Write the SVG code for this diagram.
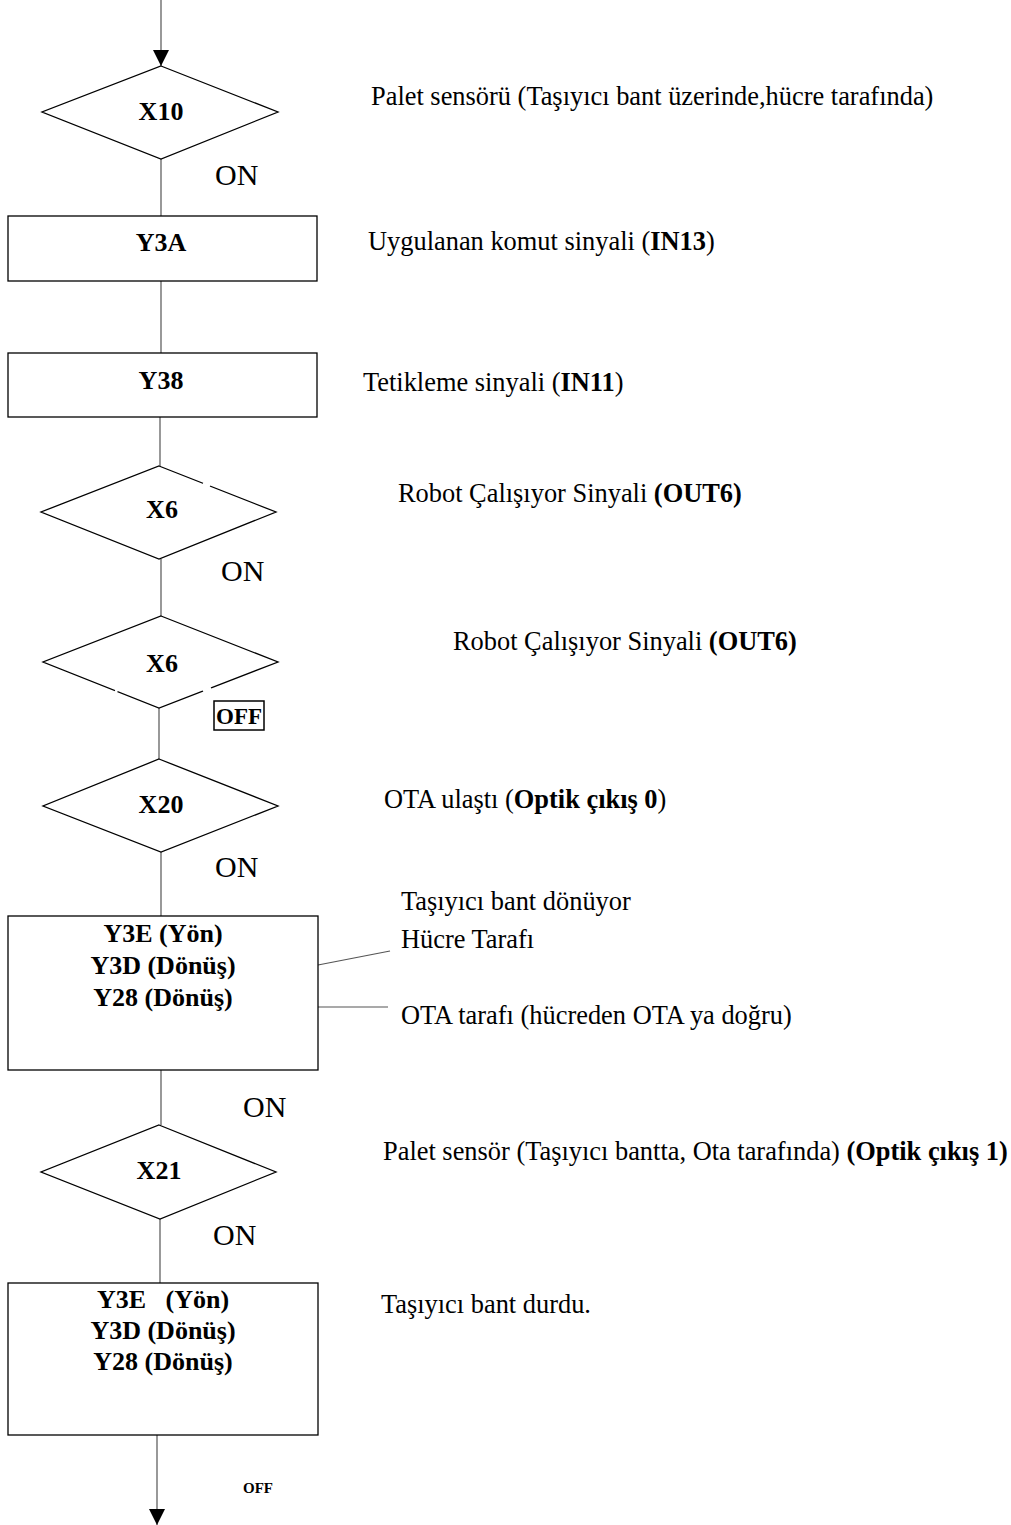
<svg xmlns="http://www.w3.org/2000/svg" width="1011" height="1525" viewBox="0 0 1011 1525">
  <style>
    .shape { fill: #ffffff; stroke: #000000; stroke-width: 1.3; }
    .gap { stroke: #ffffff; stroke-width: 3; }
    .conn { stroke: #7f7f7f; stroke-width: 1.6; fill: none; }
    .lead { stroke: #555555; stroke-width: 1.2; fill: none; }
    .lbl { font-family: "Liberation Serif", "Times New Roman", serif; font-weight: bold; font-size: 26px; fill: #000; text-anchor: middle; }
    .note { font-family: "Liberation Serif", "Times New Roman", serif; font-size: 26.4px; fill: #000; }
    .state { font-family: "Liberation Serif", "Times New Roman", serif; font-size: 30px; fill: #000; }
    .b { font-weight: bold; }
  </style>
  <defs>
    <marker id="arrow" viewBox="0 0 16 16" refX="16" refY="8" markerWidth="16" markerHeight="16" markerUnits="userSpaceOnUse" orient="auto">
      <path d="M0,0 L16,8 L0,16 Z" fill="#000"/>
    </marker>
  </defs>

  <!-- connectors between steps -->
  <g id="connectors">
    <line class="conn" x1="161" y1="0" x2="161" y2="66" marker-end="url(#arrow)"/>
    <line class="conn" x1="161" y1="159" x2="161" y2="216"/>
    <line class="conn" x1="161" y1="281" x2="161" y2="353"/>
    <line class="conn" x1="160" y1="417" x2="160" y2="466"/>
    <line class="conn" x1="161" y1="559" x2="161" y2="616"/>
    <line class="conn" x1="159" y1="708" x2="159" y2="759"/>
    <line class="conn" x1="161" y1="852" x2="161" y2="916"/>
    <line class="conn" x1="161" y1="1070" x2="161" y2="1125"/>
    <line class="conn" x1="160" y1="1219" x2="160" y2="1283"/>
    <line class="conn" x1="157" y1="1435" x2="157" y2="1525" marker-end="url(#arrow)"/>
    <!-- leader lines from the conveyor step to its notes -->
    <line class="lead" x1="318" y1="965" x2="390" y2="951"/>
    <line class="lead" x1="318" y1="1007" x2="388" y2="1007"/>
  </g>

  <g id="x10">
    <polygon class="shape" points="161,66 278,112 161,159 42,112"/>
    <text class="lbl" x="161" y="120">X10</text>
  </g>
  <g id="y3a">
    <rect class="shape" x="8" y="216" width="309" height="65"/>
    <text class="lbl" x="161" y="251">Y3A</text>
  </g>
  <g id="y38">
    <rect class="shape" x="8" y="353" width="309" height="64"/>
    <text class="lbl" x="161" y="389">Y38</text>
  </g>
  <g id="x6-on">
    <polygon class="shape" points="159,466 276,512 159,559 41,512"/>
    <line class="gap" x1="203" y1="483.3" x2="210" y2="486.1"/>
    <text class="lbl" x="162" y="518">X6</text>
  </g>
  <g id="x6-off">
    <polygon class="shape" points="161,616 278,662 159,708 43,662"/>
    <line class="gap" x1="115" y1="690.6" x2="117.5" y2="691.6"/>
    <line class="gap" x1="203" y1="691.2" x2="211" y2="687.9"/>
    <text class="lbl" x="162" y="672">X6</text>
  </g>
  <g id="x20">
    <polygon class="shape" points="159,759 278,806 161,852 43,806"/>
    <text class="lbl" x="161" y="813">X20</text>
  </g>
  <g id="conveyor-run">
    <rect class="shape" x="8" y="916" width="310" height="154"/>
    <text class="lbl" x="163" y="942">Y3E (Yön)</text>
    <text class="lbl" x="163" y="974">Y3D (Dönüş)</text>
    <text class="lbl" x="163" y="1006">Y28 (Dönüş)</text>
  </g>
  <g id="x21">
    <polygon class="shape" points="159,1125 276,1172 160,1219 41,1172"/>
    <text class="lbl" x="159" y="1179">X21</text>
  </g>
  <g id="conveyor-stop">
    <rect class="shape" x="8" y="1283" width="310" height="152"/>
    <text class="lbl" x="163" y="1308" xml:space="preserve">Y3E   (Yön)</text>
    <text class="lbl" x="163" y="1339">Y3D (Dönüş)</text>
    <text class="lbl" x="163" y="1370">Y28 (Dönüş)</text>
  </g>

  <!-- branch states -->
  <g id="states">
    <text class="state" x="215" y="185">ON</text>
    <text class="state" x="221" y="581">ON</text>
    <rect x="214" y="701" width="50" height="29" fill="none" stroke="#000" stroke-width="1.5"/>
    <text class="lbl" x="239" y="724" style="font-size:23px">OFF</text>
    <text class="state" x="215" y="877">ON</text>
    <text class="state" x="243" y="1117">ON</text>
    <text class="state" x="213" y="1245">ON</text>
    <text class="lbl" x="258" y="1493" style="font-size:15px">OFF</text>
  </g>

  <!-- signal descriptions -->
  <g id="notes">
    <text class="note" x="371" y="105">Palet sensörü (Taşıyıcı bant üzerinde,hücre tarafında)</text>
    <text class="note" x="368" y="250">Uygulanan komut sinyali (<tspan class="b">IN13</tspan>)</text>
    <text class="note" x="363" y="391">Tetikleme sinyali (<tspan class="b">IN11</tspan>)</text>
    <text class="note" x="398" y="502">Robot Çalışıyor Sinyali <tspan class="b">(OUT6)</tspan></text>
    <text class="note" x="453" y="650">Robot Çalışıyor Sinyali <tspan class="b">(OUT6)</tspan></text>
    <text class="note" x="384" y="808">OTA ulaştı (<tspan class="b">Optik çıkış 0</tspan>)</text>
    <text class="note" x="401" y="910">Taşıyıcı bant dönüyor</text>
    <text class="note" x="401" y="948">Hücre Tarafı</text>
    <text class="note" x="401" y="1024">OTA tarafı (hücreden OTA ya doğru)</text>
    <text class="note" x="383" y="1160">Palet sensör (Taşıyıcı bantta, Ota tarafında) <tspan class="b">(Optik çıkış 1)</tspan></text>
    <text class="note" x="381" y="1313">Taşıyıcı bant durdu.</text>
  </g>
</svg>
